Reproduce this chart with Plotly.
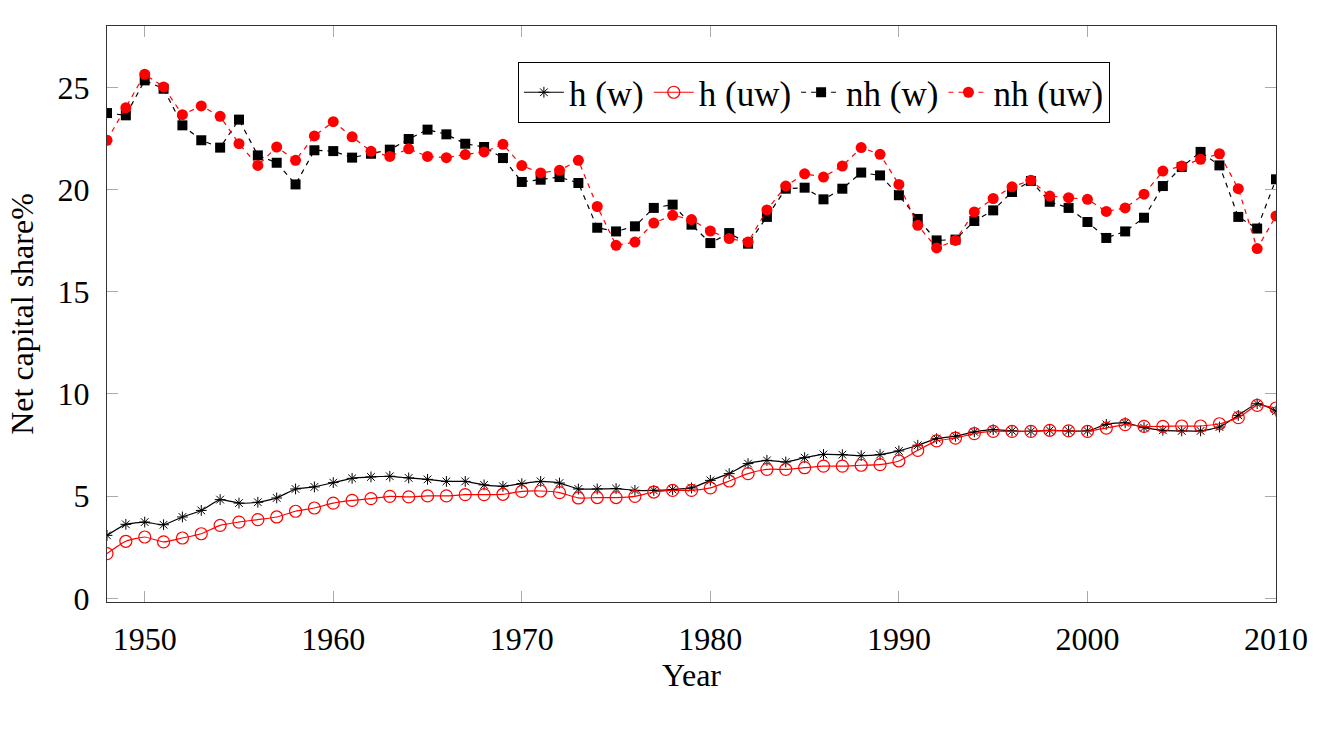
import plotly.graph_objects as go

years = list(range(1948, 2011))

h_w = [3.08, 3.62, 3.73, 3.60, 3.98, 4.30, 4.83, 4.66, 4.70, 4.91,
       5.35, 5.45, 5.66, 5.87, 5.94, 5.97, 5.89, 5.82, 5.72, 5.72,
       5.55, 5.48, 5.61, 5.72, 5.64, 5.35, 5.35, 5.37, 5.28, 5.28,
       5.32, 5.40, 5.77, 6.10, 6.59, 6.75, 6.67, 6.88, 7.04, 7.03,
       6.98, 7.03, 7.21, 7.49, 7.81, 7.93, 8.14, 8.25, 8.19, 8.17,
       8.22, 8.19, 8.19, 8.51, 8.59, 8.35, 8.22, 8.19, 8.19, 8.38,
       8.95, 9.52, 9.16]

h_uw = [2.19, 2.79, 3.00, 2.76, 2.95, 3.16, 3.57, 3.73, 3.85, 3.98,
        4.26, 4.42, 4.66, 4.79, 4.88, 4.99, 4.96, 5.01, 5.01, 5.07,
        5.07, 5.09, 5.23, 5.25, 5.17, 4.91, 4.93, 4.93, 4.99, 5.20,
        5.28, 5.28, 5.40, 5.74, 6.10, 6.31, 6.31, 6.39, 6.47, 6.47,
        6.51, 6.54, 6.72, 7.24, 7.70, 7.84, 8.06, 8.17, 8.17, 8.17,
        8.22, 8.19, 8.17, 8.33, 8.50, 8.41, 8.41, 8.43, 8.43, 8.54,
        8.84, 9.44, 9.31]

nh_w = [23.74, 23.63, 25.34, 24.93, 23.14, 22.41, 22.05, 23.42, 21.67, 21.31,
        20.25, 21.92, 21.88, 21.56, 21.75, 21.95, 22.47, 22.93, 22.70, 22.24,
        22.08, 21.54, 20.37, 20.48, 20.61, 20.32, 18.13, 17.95, 18.20, 19.10,
        19.26, 18.28, 17.38, 17.87, 17.35, 18.66, 20.04, 20.09, 19.52, 20.04,
        20.83, 20.69, 19.72, 18.56, 17.51, 17.55, 18.46, 18.98, 19.88, 20.42,
        19.40, 19.10, 18.41, 17.63, 17.95, 18.62, 20.17, 21.10, 21.84, 21.18,
        18.66, 18.09, 20.50]

nh_uw = [22.41, 24.00, 25.64, 25.02, 23.66, 24.09, 23.58, 22.24, 21.18, 22.08,
         21.43, 22.62, 23.32, 22.58, 21.87, 21.62, 21.99, 21.62, 21.56, 21.71,
         21.84, 22.21, 21.17, 20.81, 20.94, 21.43, 19.17, 17.27, 17.43, 18.36,
         18.74, 18.53, 17.97, 17.60, 17.43, 19.00, 20.17, 20.77, 20.61, 21.15,
         22.05, 21.72, 20.25, 18.25, 17.14, 17.51, 18.90, 19.56, 20.13, 20.45,
         19.68, 19.60, 19.52, 18.93, 19.10, 19.77, 20.90, 21.15, 21.48, 21.75,
         20.04, 17.11, 18.71]

x_ticks = [1950, 1960, 1970, 1980, 1990, 2000, 2010]
y_ticks = [0, 5, 10, 15, 20, 25]

FONT = "Liberation Serif"

fig = go.Figure()
fig.add_trace(go.Scatter(
    x=years, y=h_w, name="h (w)", mode="lines+markers",
    line=dict(color="black", width=1.2, shape="spline", smoothing=0.5),
    marker=dict(symbol="asterisk-open", size=9, color="black",
                line=dict(color="black", width=1))))
fig.add_trace(go.Scatter(
    x=years, y=h_uw, name="h (uw)", mode="lines+markers",
    line=dict(color="red", width=1.2, shape="spline", smoothing=0.5),
    marker=dict(symbol="circle-open", size=12, color="red",
                line=dict(color="red", width=1.2))))
fig.add_trace(go.Scatter(
    x=years, y=nh_w, name="nh (w)", mode="lines+markers",
    line=dict(color="black", width=1.2, dash="5px,5px"),
    marker=dict(symbol="square", size=10, color="black")))
fig.add_trace(go.Scatter(
    x=years, y=nh_uw, name="nh (uw)", mode="lines+markers",
    line=dict(color="red", width=1.2, dash="5px,5px"),
    marker=dict(symbol="circle", size=11, color="red")))

axis_common = dict(
    showline=True, linecolor="#333", linewidth=1, mirror="ticks",
    ticks="inside", ticklen=11, tickcolor="#aaa", tickwidth=1,
    showgrid=False, zeroline=False,
    tickfont=dict(family=FONT, size=32, color="black"),
)

fig.update_xaxes(range=[1948, 2010], tickvals=x_ticks,
                 ticktext=[str(v) for v in x_ticks],
                 ticklabelstandoff=9,
                 title=dict(text="Year", font=dict(family=FONT, size=32, color="black"),
                            standoff=4),
                 **axis_common)
fig.update_yaxes(range=[-0.18, 28], tickvals=y_ticks,
                 ticktext=[str(v) for v in y_ticks],
                 ticklabelstandoff=10,
                 title=dict(text="Net capital share%", font=dict(family=FONT, size=32, color="black"),
                            standoff=14),
                 **axis_common)

fig.update_layout(
    width=1320, height=743,
    margin=dict(l=107, r=38, t=26, b=141, pad=0),
    paper_bgcolor="white", plot_bgcolor="white",
    font=dict(family=FONT, size=32, color="black"),
    legend=dict(orientation="h", x=0.3515, y=0.9375, xanchor="left", yanchor="top",
                bordercolor="black", borderwidth=1, bgcolor="white",
                font=dict(family=FONT, size=35, color="black"),
                itemwidth=40, tracegroupgap=0),
    showlegend=True,
)

fig.write_html("out.html")
